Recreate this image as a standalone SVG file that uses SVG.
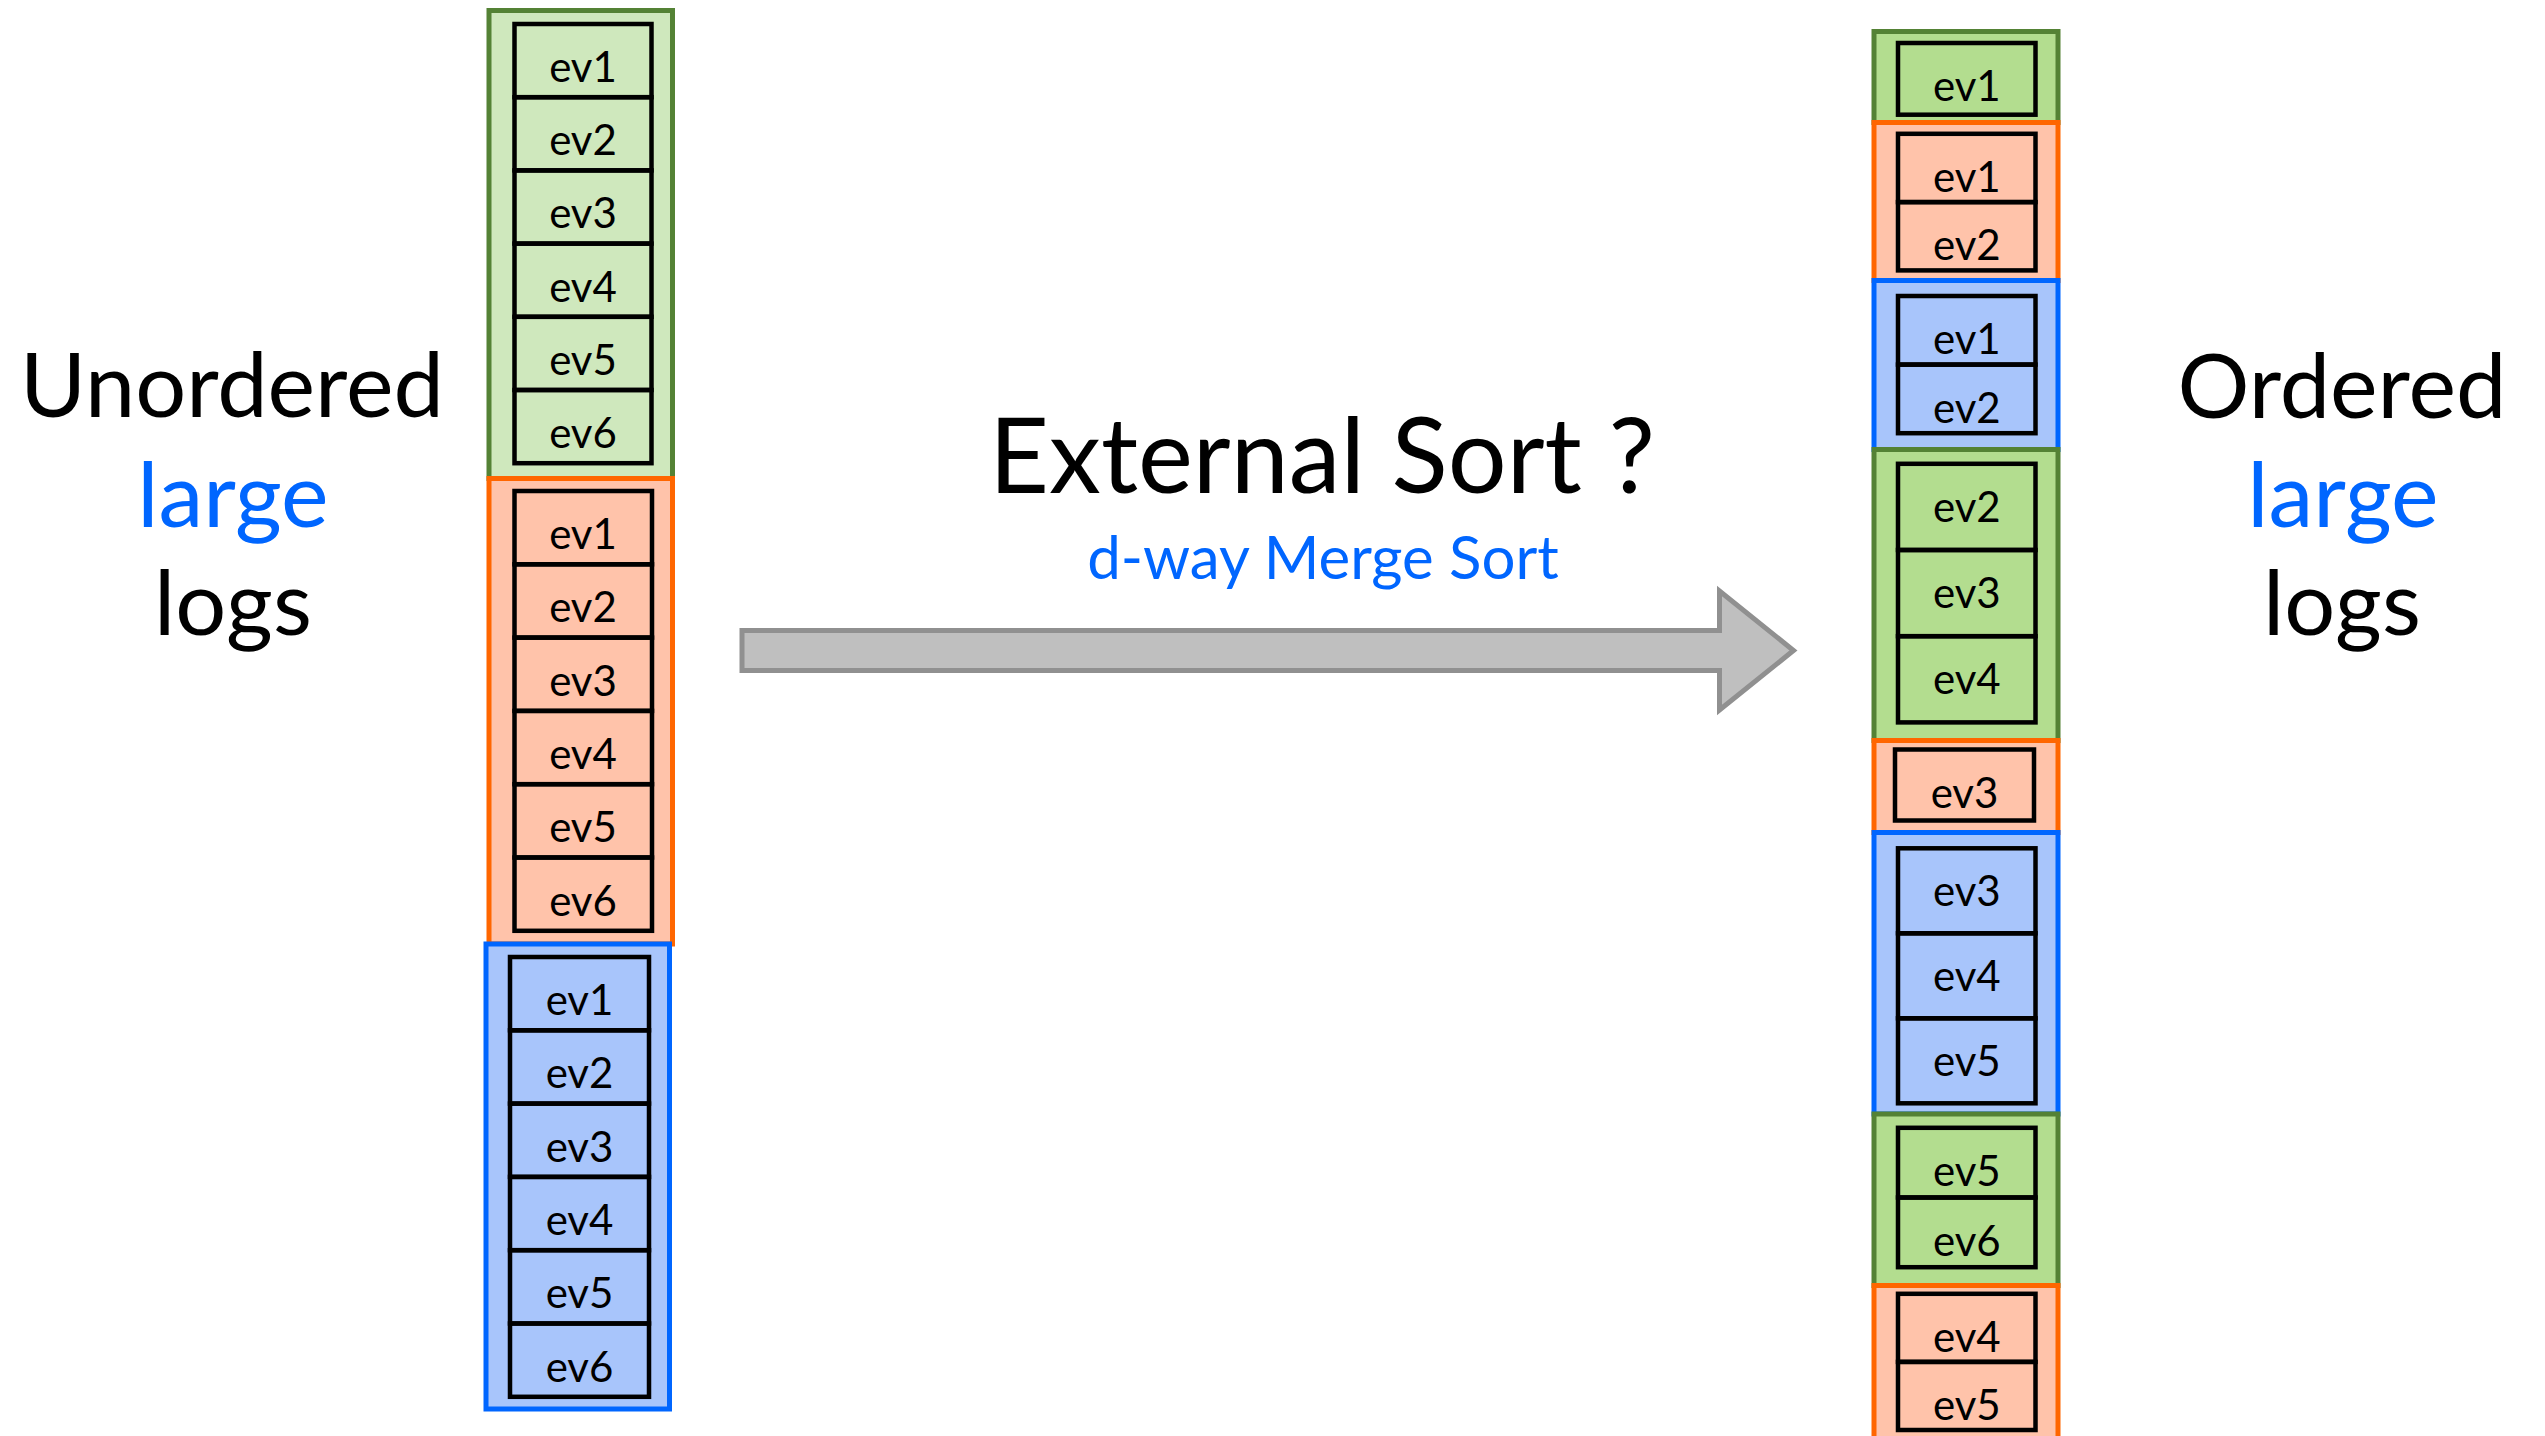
<svg xmlns="http://www.w3.org/2000/svg" width="2545" height="1436" viewBox="0 0 2545 1436">
  <style>
    text { font-family: Lato, "Open Sans", "Liberation Sans", sans-serif; text-anchor: middle; }
    .cell-label { font-size: 42px; fill: #000; }
    .title { font-size: 90px; fill: #000; }
    .accent { fill: #0066ff; }
    .block { stroke-width: 5; }
    .cell { fill: none; stroke: #000; stroke-width: 4.5; }
    .g-l { fill: #cfe8bd; stroke: #548235; }
    .g-r { fill: #b3dd8f; stroke: #548235; }
    .o { fill: #ffc3aa; stroke: #ff6600; }
    .b { fill: #a8c5fb; stroke: #0066ff; }
  </style>

  <!-- Left column: three unordered runs of six events -->
  <g id="left-green">
    <rect class="block g-l" x="489" y="10.5" width="183.5" height="468"/>
    <rect class="cell" x="514.5" y="24" width="137" height="73.2"/>
    <rect class="cell" x="514.5" y="97.2" width="137" height="73.2"/>
    <rect class="cell" x="514.5" y="170.4" width="137" height="73.2"/>
    <rect class="cell" x="514.5" y="243.6" width="137" height="73.2"/>
    <rect class="cell" x="514.5" y="316.8" width="137" height="73.2"/>
    <rect class="cell" x="514.5" y="390" width="137" height="73.2"/>
    <text class="cell-label" x="583" y="82">ev1</text>
    <text class="cell-label" x="583" y="155.2">ev2</text>
    <text class="cell-label" x="583" y="228.4">ev3</text>
    <text class="cell-label" x="583" y="301.6">ev4</text>
    <text class="cell-label" x="583" y="374.8">ev5</text>
    <text class="cell-label" x="583" y="448">ev6</text>
  </g>

  <g id="left-orange">
    <rect class="block o" x="489" y="478.5" width="183.5" height="465.5"/>
    <rect class="cell" x="514.5" y="491" width="137.5" height="73.3"/>
    <rect class="cell" x="514.5" y="564.3" width="137.5" height="73.3"/>
    <rect class="cell" x="514.5" y="637.6" width="137.5" height="73.3"/>
    <rect class="cell" x="514.5" y="710.9" width="137.5" height="73.3"/>
    <rect class="cell" x="514.5" y="784.2" width="137.5" height="73.3"/>
    <rect class="cell" x="514.5" y="857.5" width="137.5" height="73.3"/>
    <text class="cell-label" x="583" y="549">ev1</text>
    <text class="cell-label" x="583" y="622.3">ev2</text>
    <text class="cell-label" x="583" y="695.6">ev3</text>
    <text class="cell-label" x="583" y="768.9">ev4</text>
    <text class="cell-label" x="583" y="842.2">ev5</text>
    <text class="cell-label" x="583" y="915.5">ev6</text>
  </g>

  <g id="left-blue">
    <rect class="block b" x="486" y="944" width="183.5" height="465"/>
    <rect class="cell" x="510" y="957" width="139" height="73.3"/>
    <rect class="cell" x="510" y="1030.3" width="139" height="73.3"/>
    <rect class="cell" x="510" y="1103.6" width="139" height="73.3"/>
    <rect class="cell" x="510" y="1176.9" width="139" height="73.3"/>
    <rect class="cell" x="510" y="1250.2" width="139" height="73.3"/>
    <rect class="cell" x="510" y="1323.5" width="139" height="73.3"/>
    <text class="cell-label" x="579.5" y="1015">ev1</text>
    <text class="cell-label" x="579.5" y="1088.3">ev2</text>
    <text class="cell-label" x="579.5" y="1161.6">ev3</text>
    <text class="cell-label" x="579.5" y="1234.9">ev4</text>
    <text class="cell-label" x="579.5" y="1308.2">ev5</text>
    <text class="cell-label" x="579.5" y="1381.5">ev6</text>
  </g>

  <!-- Right column: merged output, runs interleaved -->
  <g id="right-green-1">
    <rect class="block g-r" x="1874" y="31.5" width="184" height="91"/>
    <rect class="cell" x="1898" y="43" width="137.5" height="71.7"/>
    <text class="cell-label" x="1966.8" y="101">ev1</text>
  </g>

  <g id="right-orange-1">
    <rect class="block o" x="1874" y="122.5" width="184" height="158"/>
    <rect class="cell" x="1898" y="133.8" width="137.5" height="68.3"/>
    <rect class="cell" x="1898" y="202.1" width="137.5" height="68.3"/>
    <text class="cell-label" x="1966.8" y="191.8">ev1</text>
    <text class="cell-label" x="1966.8" y="260.1">ev2</text>
  </g>

  <g id="right-blue-1">
    <rect class="block b" x="1874" y="280.5" width="184" height="169"/>
    <rect class="cell" x="1898" y="296" width="137.5" height="68.6"/>
    <rect class="cell" x="1898" y="364.6" width="137.5" height="68.6"/>
    <text class="cell-label" x="1966.8" y="354">ev1</text>
    <text class="cell-label" x="1966.8" y="422.6">ev2</text>
  </g>

  <g id="right-green-2">
    <rect class="block g-r" x="1874" y="449.5" width="184" height="291"/>
    <rect class="cell" x="1898" y="463.8" width="137.5" height="86.2"/>
    <rect class="cell" x="1898" y="550" width="137.5" height="86.2"/>
    <rect class="cell" x="1898" y="636.2" width="137.5" height="86.2"/>
    <text class="cell-label" x="1966.8" y="522">ev2</text>
    <text class="cell-label" x="1966.8" y="608">ev3</text>
    <text class="cell-label" x="1966.8" y="694">ev4</text>
  </g>

  <g id="right-orange-2">
    <rect class="block o" x="1874" y="740.5" width="184" height="92"/>
    <rect class="cell" x="1895" y="749.5" width="139" height="71"/>
    <text class="cell-label" x="1964.5" y="807.5">ev3</text>
  </g>

  <g id="right-blue-2">
    <rect class="block b" x="1874" y="832.5" width="184" height="281.5"/>
    <rect class="cell" x="1898" y="848.3" width="137.5" height="85"/>
    <rect class="cell" x="1898" y="933.3" width="137.5" height="85"/>
    <rect class="cell" x="1898" y="1018.3" width="137.5" height="85"/>
    <text class="cell-label" x="1966.8" y="906">ev3</text>
    <text class="cell-label" x="1966.8" y="991">ev4</text>
    <text class="cell-label" x="1966.8" y="1076">ev5</text>
  </g>

  <g id="right-green-3">
    <rect class="block g-r" x="1874" y="1114" width="184" height="171.5"/>
    <rect class="cell" x="1898" y="1127.8" width="137.5" height="69.7"/>
    <rect class="cell" x="1898" y="1197.5" width="137.5" height="69.7"/>
    <text class="cell-label" x="1966.8" y="1185.8">ev5</text>
    <text class="cell-label" x="1966.8" y="1255.5">ev6</text>
  </g>

  <g id="right-orange-3">
    <rect class="block o" x="1874" y="1285.5" width="184" height="180"/>
    <rect class="cell" x="1898" y="1293.8" width="137.5" height="68.1"/>
    <rect class="cell" x="1898" y="1361.9" width="137.5" height="68.1"/>
    <text class="cell-label" x="1966.8" y="1351.8">ev4</text>
    <text class="cell-label" x="1966.8" y="1419.9">ev5</text>
  </g>

  <!-- Side captions -->
  <g id="caption-unordered">
    <text class="title" x="232" y="417">Unordered</text>
    <text class="title accent" x="233" y="527">large</text>
    <text class="title" x="233" y="635">logs</text>
  </g>

  <g id="caption-ordered">
    <text class="title" x="2342" y="418">Ordered</text>
    <text class="title accent" x="2343" y="527">large</text>
    <text class="title" x="2342" y="635">logs</text>
  </g>

  <!-- Central label -->
  <g id="label-sort">
    <text x="1322" y="493" style="font-size:104px" fill="#000">External Sort ?</text>
    <text x="1323" y="579" style="font-size:60px" class="accent">d-way Merge Sort</text>
  </g>

  <!-- Block arrow from unordered to ordered -->
  <g id="connectors">
    <path d="M742 630.5 H1719.5 V591 L1793.5 650.5 L1719.5 710 V670.5 H742 Z" fill="#bfbfbf" stroke="#909090" stroke-width="5" stroke-linejoin="miter"/>
  </g>
</svg>
